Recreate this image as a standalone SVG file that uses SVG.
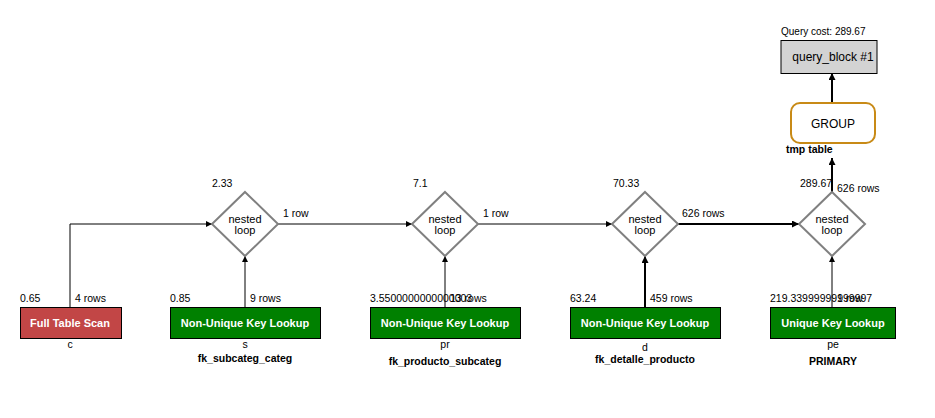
<svg xmlns="http://www.w3.org/2000/svg" width="935" height="418" viewBox="0 0 935 418">
<defs>
<marker id="ah" viewBox="0 0 10 10" refX="10" refY="5" markerWidth="6" markerHeight="6" markerUnits="userSpaceOnUse" orient="auto"><path d="M0,0 L10,5 L0,10 z" fill="#000"/></marker>
<marker id="ahb" viewBox="0 0 10 10" refX="10" refY="5" markerWidth="7" markerHeight="7" markerUnits="userSpaceOnUse" orient="auto"><path d="M0,0 L10,5 L0,10 z" fill="#000"/></marker>
<style>
text{font-family:"Liberation Sans",Arial,sans-serif;fill:#000}
.s{font-size:10.5px}
.b{font-size:10.5px;font-weight:bold}
.bt{font-size:11px;font-weight:bold;fill:#fff;text-anchor:middle}
.nl{font-size:11px;text-anchor:middle}
.c{text-anchor:middle}
.dia{fill:#fff;stroke:#808080;stroke-width:2}
.red{fill:#c24646;stroke:#000;stroke-width:1}
.grn{fill:#008000;stroke:#000;stroke-width:1}
.ln{fill:none;stroke:#000;stroke-width:1;marker-end:url(#ah)}
.lb{fill:none;stroke:#000;stroke-width:2;marker-end:url(#ahb)}
</style>
</defs>
<rect width="935" height="418" fill="#fff"/>
<g id="connectors">
<path class="ln" d="M70,307 V224 H212"/>
<path class="ln" d="M245,307 V256"/>
<path class="ln" d="M278,224 H412"/>
<path class="ln" d="M445,307 V256"/>
<path class="ln" d="M478,224 H612"/>
<path class="lb" d="M645,307 V256"/>
<path class="lb" d="M678,224 H799"/>
<path class="ln" d="M832,307 V256"/>
<path class="lb" d="M832,192 V158"/>
<path class="lb" d="M832,103 V73"/>
</g>
<g id="query_block">
<text x="781" y="35" style="font-size:10px">Query cost: 289.67</text>
<rect x="781" y="40.5" width="96" height="33" fill="#d3d3d3" stroke="#000" stroke-width="1"/>
<text x="833" y="61" class="c" style="font-size:12px">query_block #1</text>
</g>
<g id="group">
<rect x="791" y="103" width="84" height="40" rx="9" fill="#fff" stroke="#c88a16" stroke-width="2"/>
<text x="833" y="127.5" class="c" style="font-size:12px">GROUP</text>
<text x="786" y="153" style="font-size:10.5px;font-weight:bold">tmp table</text>
</g>
<g id="nl1">
<polygon class="dia" points="245,192 278,224 245,256 212,224"/>
<text x="245" y="222.5" class="nl">nested</text>
<text x="245" y="233.5" class="nl">loop</text>
<text x="212" y="187" class="s">2.33</text>
<text x="283" y="217" class="s">1 row</text>
</g>
<g id="nl2">
<polygon class="dia" points="445,192 478,224 445,256 412,224"/>
<text x="445" y="222.5" class="nl">nested</text>
<text x="445" y="233.5" class="nl">loop</text>
<text x="413" y="187" class="s">7.1</text>
<text x="483" y="217" class="s">1 row</text>
</g>
<g id="nl3">
<polygon class="dia" points="645,192 678,224 645,256 612,224"/>
<text x="645" y="222.5" class="nl">nested</text>
<text x="645" y="233.5" class="nl">loop</text>
<text x="613" y="187" class="s">70.33</text>
<text x="682" y="217" class="s">626 rows</text>
</g>
<g id="nl4">
<polygon class="dia" points="832,192 865,224 832,256 799,224"/>
<text x="832" y="222.5" class="nl">nested</text>
<text x="832" y="233.5" class="nl">loop</text>
<text x="800" y="187" class="s">289.67</text>
<text x="837" y="192" class="s">626 rows</text>
</g>
<g id="c">
<text x="20" y="302" class="s">0.65</text>
<text x="75" y="302" class="s">4 rows</text>
<rect class="red" x="20.5" y="307.5" width="101" height="31"/>
<text x="70" y="327" class="bt">Full Table Scan</text>
<text x="70" y="348" class="s c">c</text>
</g>
<g id="s">
<text x="170" y="302" class="s">0.85</text>
<text x="250" y="302" class="s">9 rows</text>
<rect class="grn" x="170.5" y="307.5" width="150" height="31"/>
<text x="245" y="327" class="bt">Non-Unique Key Lookup</text>
<text x="245" y="348" class="s c">s</text>
<text x="245" y="362" class="b c">fk_subcateg_categ</text>
</g>
<g id="pr">
<text x="370" y="302" class="s">3.5500000000000003</text>
<text x="450" y="302" class="s">13 rows</text>
<rect class="grn" x="370.5" y="307.5" width="150" height="31"/>
<text x="445" y="327" class="bt">Non-Unique Key Lookup</text>
<text x="445" y="348" class="s c">pr</text>
<text x="445" y="365" class="b c">fk_producto_subcateg</text>
</g>
<g id="d">
<text x="570" y="302" class="s">63.24</text>
<text x="650" y="302" class="s">459 rows</text>
<rect class="grn" x="570.5" y="307.5" width="150" height="31"/>
<text x="645" y="327" class="bt">Non-Unique Key Lookup</text>
<text x="645" y="351" class="s c">d</text>
<text x="645" y="363" class="b c">fk_detalle_producto</text>
</g>
<g id="pe">
<text x="770" y="302" class="s">219.33999999999997</text>
<text x="837" y="302" class="s">1 row</text>
<rect class="grn" x="770.5" y="307.5" width="125" height="31"/>
<text x="833" y="327" class="bt">Unique Key Lookup</text>
<text x="833" y="348" class="s c">pe</text>
<text x="833" y="365" class="b c">PRIMARY</text>
</g>
</svg>
